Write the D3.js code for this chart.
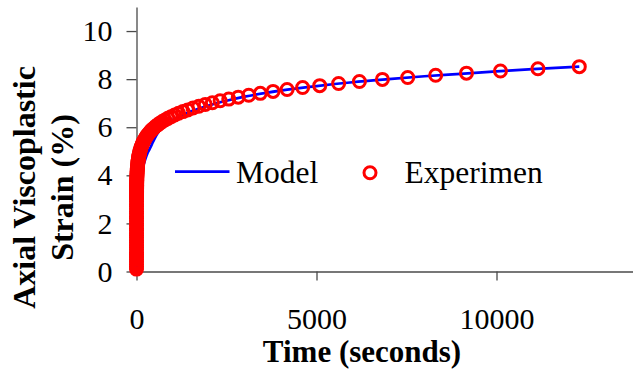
<!DOCTYPE html>
<html>
<head>
<meta charset="utf-8">
<script src="https://cdn.jsdelivr.net/npm/d3@7"></script>
<style>
  html, body { margin: 0; padding: 0; background: #fff; }
  svg { display: block; }
</style>
</head>
<body>
<svg id="chart" width="633" height="370"></svg>
<script>
// Creep test: axial viscoplastic strain (%) against time (s)

// Measured points (time in seconds)
const expTime = [
  0, 0.03, 0.07, 0.1, 0.14, 0.17, 0.21, 0.24, 0.28, 0.31, 0.34, 0.38, 0.41, 0.45, 0.48,
  0.52, 0.55, 0.59, 0.62, 0.66, 0.69, 0.72, 0.76, 0.79, 0.83, 0.86, 0.9, 0.93, 0.97,
  1.0, 1.1, 1.2, 1.4, 1.5, 1.7, 1.8, 2.0, 2.2, 2.4, 2.7, 3.0, 3.3, 3.6, 4.0, 4.4, 4.8,
  5.3, 5.9, 6.5, 7.2, 7.9, 8.7, 9.6, 10.6, 11.7, 12.9, 14.2, 15.7, 17.3, 19.1, 21.0,
  23.2, 25.6, 28.2, 31.1, 34.3, 37.8, 41.7, 46.0, 50.8, 56.0, 61.8, 68.1, 75.2, 82.9,
  91.4, 100.9, 111.3, 122.7, 135.3, 149.3, 164.7, 181.6, 200.3, 221.0, 243.7, 268.8,
  296.5, 327.0, 360.7, 397.9, 438.9, 484.1, 533.9, 588.9, 649.6, 716.5, 790.3, 871.7,
  961.5, 1060.5, 1169.8, 1290.2, 1423.1, 1569.7, 1731.4, 1909.8, 2106.5, 2323.4, 2562.7,
  2826.7, 3117.8, 3439.0, 3793.2, 4183.9, 4614.8, 5090.1, 5614.4, 6192.7, 6830.5, 7534.0,
  8310.0, 9166.0, 10110.1, 11151.4, 12300
];
const expStrain = [
  0.1, 0.2, 0.3, 0.4, 0.5, 0.6, 0.7, 0.8, 0.9, 1.0, 1.1, 1.2, 1.3, 1.4, 1.5,
  1.6, 1.7, 1.8, 1.9, 2.0, 2.1, 2.2, 2.3, 2.4, 2.5, 2.6, 2.7, 2.8, 2.9,
  3.03, 3.07, 3.10, 3.13, 3.17, 3.20, 3.24, 3.27, 3.31, 3.34, 3.38, 3.42, 3.45, 3.49, 3.53, 3.57, 3.60,
  3.64, 3.68, 3.72, 3.76, 3.80, 3.84, 3.89, 3.93, 3.97, 4.01, 4.06, 4.10, 4.15, 4.19, 4.24,
  4.28, 4.33, 4.37, 4.42, 4.47, 4.52, 4.57, 4.62, 4.67, 4.72, 4.77, 4.82, 4.87, 4.92,
  4.98, 5.03, 5.08, 5.14, 5.20, 5.25, 5.31, 5.37, 5.42, 5.48, 5.54, 5.60,
  5.66, 5.72, 5.78, 5.85, 5.91, 5.97, 6.04, 6.10, 6.17, 6.24, 6.30, 6.37,
  6.44, 6.51, 6.58, 6.65, 6.72, 6.80, 6.87, 6.95, 7.02, 7.10, 7.17,
  7.25, 7.33, 7.41, 7.49, 7.57, 7.65, 7.73, 7.82, 7.90, 7.99, 8.07,
  8.16, 8.25, 8.34, 8.43, 8.52
];

// Model prediction
const modelTime = [0, 10, 25, 50, 100, 150, 200, 250, 300, 350, 400, 450, 500, 600, 700,
  800, 1000, 1250, 1500, 2000, 2500, 3000, 4000, 5000, 6000, 7000, 8000, 9000, 10000, 11000, 12300];
const modelStrain = [0, 1.6, 2.5, 3.2, 3.75, 4.1, 4.45, 4.7, 4.9, 5.05, 5.2, 5.37, 5.52, 5.78, 5.97,
  6.1, 6.3, 6.5, 6.65, 6.9, 7.1, 7.27, 7.52, 7.71, 7.87, 8.0, 8.12, 8.22, 8.32, 8.42, 8.52];

// Axis ticks and labels
const xTicks = [0, 5000, 10000];
const yTicks = [0, 2, 4, 6, 8, 10];
const xTitle = "Time (seconds)";
const yTitleLines = ["Axial Viscoplastic", "Strain (%)"];
const legendLabels = ["Model", "Experimen"];

const serif = "'Liberation Serif', 'Times New Roman', Times, serif";
const axisColor = "#4a4a4a";
const markerR = 6;
const markerW = 3;

const svg = d3.select("#chart");
svg.append("rect").attr("width", 633).attr("height", 370).attr("fill", "#fff");

const x = d3.scaleLinear().domain([0, 14000]).range([136.5, 640.5]);
const y = d3.scaleLinear().domain([0, 11]).range([271.5, 7]);

// X axis
const gx = svg.append("g")
  .attr("transform", `translate(0,${y(0)})`)
  .call(d3.axisBottom(x).tickValues(xTicks).tickSize(9).tickSizeOuter(0).tickPadding(27.5)
    .tickFormat(d3.format("d")));

// Y axis
const gy = svg.append("g")
  .attr("transform", `translate(${x(0)},0)`)
  .call(d3.axisLeft(y).tickValues(yTicks).tickSize(10).tickSizeOuter(0).tickPadding(14)
    .tickFormat(d3.format("d")));

[gx, gy].forEach(g => {
  g.select(".domain").attr("stroke", axisColor).attr("stroke-width", 1.3);
  g.selectAll(".tick line").attr("stroke", axisColor).attr("stroke-width", 1.3);
  g.selectAll(".tick text")
    .attr("fill", "#000")
    .style("font-family", serif)
    .style("font-size", "30px");
});

// Axis titles
svg.append("text")
  .attr("x", 362).attr("y", 361.5)
  .attr("text-anchor", "middle")
  .style("font-family", serif).style("font-size", "31px").style("font-weight", "bold")
  .text(xTitle);

const yTitle = svg.append("text")
  .attr("transform", "translate(0,187.5) rotate(-90)")
  .attr("text-anchor", "middle")
  .style("font-family", serif).style("font-size", "32px").style("font-weight", "bold");
yTitleLines.forEach((line, i) => {
  yTitle.append("tspan").attr("x", 0).attr("y", i === 0 ? 34.5 : 73).text(line);
});

// Model curve
const modelData = modelTime.map((t, i) => [t, modelStrain[i]]);
svg.append("path")
  .datum(modelData)
  .attr("fill", "none")
  .attr("stroke", "#0000ff")
  .attr("stroke-width", 2.7)
  .attr("d", d3.line().x(d => x(d[0])).y(d => y(d[1])).curve(d3.curveMonotoneX));

// Measured points
const expData = expTime.map((t, i) => [t, expStrain[i]]);
svg.append("g").selectAll("circle")
  .data(expData)
  .join("circle")
  .attr("cx", d => x(d[0]))
  .attr("cy", d => y(d[1]))
  .attr("r", markerR)
  .attr("fill", "none")
  .attr("stroke", "#ff0000")
  .attr("stroke-width", markerW);

// Legend
const legend = svg.append("g");
legend.append("line")
  .attr("x1", 175).attr("x2", 229.5).attr("y1", 171.7).attr("y2", 171.7)
  .attr("stroke", "#0000ff").attr("stroke-width", 2.7);
legend.append("text")
  .attr("x", 236).attr("y", 182.7)
  .style("font-family", serif).style("font-size", "31.5px")
  .text(legendLabels[0]);
legend.append("circle")
  .attr("cx", 370).attr("cy", 172.7).attr("r", markerR)
  .attr("fill", "none").attr("stroke", "#ff0000").attr("stroke-width", markerW);
legend.append("text")
  .attr("x", 404.5).attr("y", 182.7)
  .style("font-family", serif).style("font-size", "31.5px")
  .text(legendLabels[1]);
</script>
</body>
</html>
